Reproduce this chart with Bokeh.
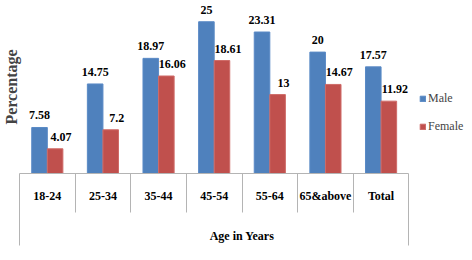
from bokeh.plotting import figure
from bokeh.models import (ColumnDataSource, Range1d, LinearAxis, FixedTicker,
                          LabelSet, Legend, LegendItem)
from bokeh.transform import dodge
from bokeh.embed import file_html
from bokeh.resources import INLINE

categories = ["18-24", "25-34", "35-44", "45-54", "55-64", "65&above", "Total"]
male = [7.58, 14.75, 18.97, 25, 23.31, 20, 17.57]
female = [4.07, 7.2, 16.06, 18.61, 13, 14.67, 11.92]
series = ["Male", "Female"]
x_title = "Age in Years"
y_title = "Percentage"

FONT = "Liberation Serif"
BLUE = "#4f81bd"
RED = "#c0504d"
LINE = "#b4b4b4"

n = len(categories)
pos = [i + 0.5 for i in range(n)]
source = ColumnDataSource(dict(
    pos=pos, cat=categories, male=male, female=female,
    male_lbl=[f"{v:g}" for v in male], female_lbl=[f"{v:g}" for v in female]))

LEGEND_ROOM = 1.0  # extra x-range (in category widths) reserved for the legend

p = figure(width=464, height=252, x_range=Range1d(0, n + LEGEND_ROOM), y_range=Range1d(0, 28.5),
           x_axis_location=None, y_axis_location=None, output_backend="svg",
           toolbar_location=None, min_border_left=0, min_border_top=0,
           min_border_right=0, min_border_bottom=79, title_location="left")
p.outline_line_color = None
p.grid.visible = False
p.background_fill_color = "white"

p.title.text = y_title
p.title.text_font = FONT
p.title.text_font_style = "bold"
p.title.text_font_size = "16px"
p.title.align = "center"
p.title.standoff = 0
p.title.offset = 30

w = 0.28
mr = p.vbar(x=dodge("pos", -w / 2, range=p.x_range), top="male", width=w, source=source,
            fill_color=BLUE, line_color="#5a8ac6")
fr = p.vbar(x=dodge("pos", w / 2, range=p.x_range), top="female", width=w, source=source,
            fill_color=RED, line_color="#cf6b68")

lab_kw = dict(text_font=FONT, text_font_style="bold", text_font_size="12px",
              text_align="center", text_baseline="bottom", text_color="black", y_offset=8)
p.add_layout(LabelSet(x=dodge("pos", -w / 2, range=p.x_range), y="male", text="male_lbl",
                      source=source, **lab_kw))
p.add_layout(LabelSet(x=dodge("pos", w / 2, range=p.x_range), y="female", text="female_lbl",
                      source=source, x_offset=6, **lab_kw))

ax = LinearAxis(ticker=FixedTicker(ticks=pos, minor_ticks=list(range(1, n))))
ax.bounds = (0, n)
ax.major_label_overrides = {pv: c for pv, c in zip(pos, categories)}
ax.axis_line_color = LINE
ax.major_tick_line_color = None
ax.major_tick_out = 0
ax.major_tick_in = 0
ax.minor_tick_line_color = LINE
ax.minor_tick_out = 39
ax.minor_tick_in = 0
ax.major_label_standoff = -24
ax.major_label_text_font = FONT
ax.major_label_text_font_style = "bold"
ax.major_label_text_font_size = "12px"
ax.major_label_text_color = "black"
ax.axis_label = x_title
ax.axis_label_standoff = 23
ax.axis_label_text_font = FONT
ax.axis_label_text_font_style = "bold"
ax.axis_label_text_font_size = "12px"
ax.axis_label_text_color = "black"
p.add_layout(ax, "below")

ax2 = LinearAxis(ticker=FixedTicker(ticks=[0, n], minor_ticks=[]))
ax2.bounds = (0, n)
ax2.axis_line_color = None
ax2.major_tick_line_color = LINE
ax2.major_tick_in = 72
ax2.major_tick_out = 0
ax2.minor_tick_out = 0
ax2.major_label_overrides = {0: "", n: ""}
ax2.major_label_text_font_size = "1px"
ax2.major_label_standoff = 0
ax2.axis_label_standoff = 0
ax2.minor_tick_line_color = None
p.add_layout(ax2, "below")

legend = Legend(items=[LegendItem(label=series[0], renderers=[mr]),
                       LegendItem(label=series[1], renderers=[fr])],
                location=(400, 39), glyph_width=7, glyph_height=7, label_height=14,
                spacing=13, padding=0, margin=0, border_line_color=None,
                background_fill_alpha=0, label_text_font=FONT, label_text_font_size="12px",
                label_standoff=2)
p.add_layout(legend)

open("out.html", "w").write(file_html(p, INLINE))
